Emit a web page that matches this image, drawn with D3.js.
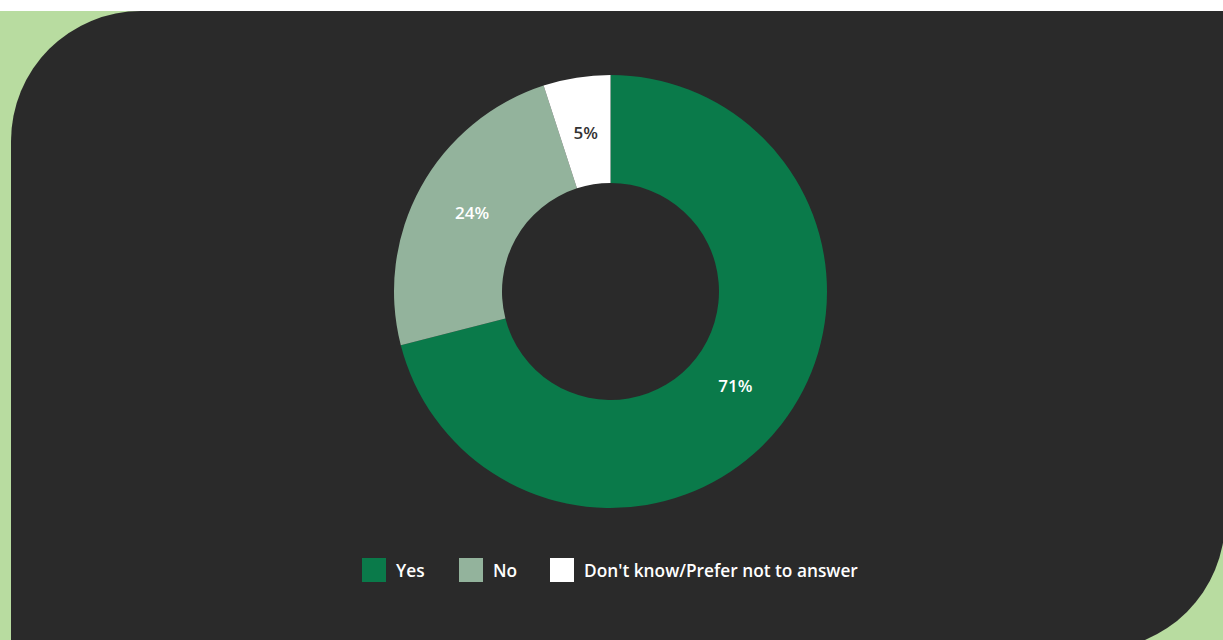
<!DOCTYPE html>
<html>
<head>
<meta charset="utf-8">
<script src="https://cdn.jsdelivr.net/npm/d3@7"></script>
<style>
  html, body { margin: 0; padding: 0; background: #ffffff; }
  svg { display: block; }
  text { font-family: "Open Sans", "Noto Sans", sans-serif; }
</style>
</head>
<body>
<svg id="chart" width="1223" height="640"></svg>
<script>
// Survey answers and their shares (%)
const categories = ["Yes", "No", "Don't know/Prefer not to answer"];
const values = [71, 24, 5];
const colors = ["#0a7a4a", "#93b39c", "#ffffff"];
const labelColors = ["#ffffff", "#ffffff", "#333333"];

const W = 1223, H = 640;
const svg = d3.select("#chart");

// Light green backdrop below a thin white strip
svg.append("rect").attr("x", 0).attr("y", 11).attr("width", W).attr("height", H - 11)
  .attr("fill", "#b8dca0");

// Dark panel: rounded top-left and bottom-right corners only
const px = 11, py = 11, pr = 1225, pb = 650, rad = 130;
const panel = d3.path();
panel.moveTo(px + rad, py);
panel.lineTo(pr, py);
panel.lineTo(pr, pb - rad);
panel.arcTo(pr, pb, pr - rad, pb, rad);
panel.lineTo(px, pb);
panel.lineTo(px, py + rad);
panel.arcTo(px, py, px + rad, py, rad);
panel.closePath();
svg.append("path").attr("d", panel.toString()).attr("fill", "#2a2a2a");

// Donut
const cx = 610.5, cy = 291.5, outerR = 216.5, innerR = 108.5;
const pie = d3.pie().sort(null).value(d => d.value);
const arcs = pie(categories.map((c, i) => ({ cat: c, value: values[i], i })));
const arc = d3.arc().innerRadius(innerR).outerRadius(outerR);
const labelR = 158;
const labelArc = d3.arc().innerRadius(labelR).outerRadius(labelR);

const g = svg.append("g").attr("transform", `translate(${cx},${cy})`);
g.selectAll("path.slice").data(arcs).join("path")
  .attr("class", "slice")
  .attr("d", arc)
  .attr("fill", d => colors[d.data.i]);

g.selectAll("text.val").data(arcs).join("text")
  .attr("class", "val")
  .attr("transform", d => {
    const [x, y] = labelArc.centroid(d);
    return `translate(${x},${y - 3})`;
  })
  .attr("text-anchor", "middle")
  .attr("dominant-baseline", "central")
  .attr("font-size", 17)
  .attr("font-weight", 600)
  .attr("fill", d => labelColors[d.data.i])
  .text(d => d.data.value + "%");

// Legend
const legendX = [362, 459, 550];
const legend = svg.append("g").attr("transform", "translate(0,558)");
categories.forEach((c, i) => {
  legend.append("rect").attr("x", legendX[i]).attr("y", 0).attr("width", 24).attr("height", 24)
    .attr("fill", colors[i]);
  legend.append("text").attr("x", legendX[i] + 34).attr("y", 12)
    .attr("dominant-baseline", "central")
    .attr("font-size", 17.3).attr("font-weight", 600).attr("fill", "#ffffff")
    .text(c);
});
</script>
</body>
</html>
